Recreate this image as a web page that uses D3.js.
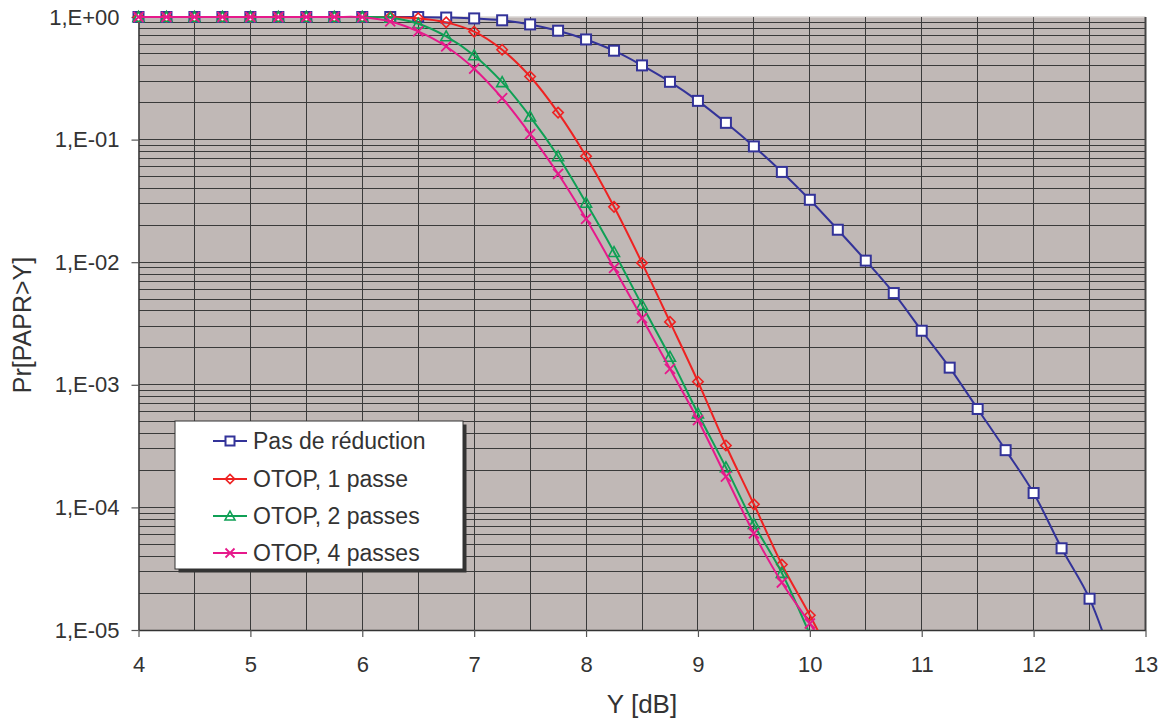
<!DOCTYPE html>
<html>
<head>
<meta charset="utf-8">
<script src="https://cdn.jsdelivr.net/npm/d3@7"></script>
<style>
  html, body { margin: 0; padding: 0; background: #fff; }
  svg { display: block; font-family: "Liberation Sans", Arial, sans-serif; }
</style>
</head>
<body>
<svg id="chart" width="1164" height="720"></svg>
<script>
// ---- data ----
const xValues = [4, 4.25, 4.5, 4.75, 5, 5.25, 5.5, 5.75, 6, 6.25, 6.5, 6.75, 7, 7.25, 7.5, 7.75,
  8, 8.25, 8.5, 8.75, 9, 9.25, 9.5, 9.75, 10, 10.25, 10.5, 10.75, 11, 11.25, 11.5, 11.75,
  12, 12.25, 12.5, 12.75];

const seriesNames = ["Pas de réduction", "OTOP, 1 passe", "OTOP, 2 passes", "OTOP, 4 passes"];

const pasDeReduction = [1, 1, 1, 1, 1, 1, 1, 1, 1, 1, 0.999, 0.99, 0.974, 0.94, 0.87, 0.773,
  0.656, 0.531, 0.403, 0.296, 0.207, 0.137, 0.088, 0.0545, 0.0323, 0.0184, 0.0103, 0.0056,
  0.00276, 0.00138, 0.000635, 0.000293, 0.000131, 4.64e-5, 1.8e-5, 4.2e-6];

const otop1 = [1, 1, 1, 1, 1, 1, 1, 1, 1, 0.999, 0.978, 0.904, 0.759, 0.541, 0.327, 0.166,
  0.0731, 0.0283, 0.00987, 0.00326, 0.00106, 3.2e-4, 1.06e-4, 3.42e-5, 1.32e-5, 4.7e-6];

const otop2 = [1, 1, 1, 1, 1, 1, 1, 1, 1, 0.985, 0.882, 0.695, 0.486, 0.294, 0.154, 0.0731,
  0.0305, 0.0121, 0.00447, 0.00169, 5.84e-4, 2.12e-4, 7.3e-5, 2.92e-5, 9.2e-6];

const otop4 = [1, 1, 1, 1, 1, 1, 1, 1, 0.997, 0.92, 0.763, 0.575, 0.379, 0.218, 0.111, 0.0526,
  0.0226, 0.00898, 0.0035, 0.00135, 5.16e-4, 1.78e-4, 6.13e-5, 2.44e-5, 1.13e-5, 5.0e-6];

const xTicks = [4, 5, 6, 7, 8, 9, 10, 11, 12, 13];
const yTicks = [1, 1e-1, 1e-2, 1e-3, 1e-4, 1e-5];
const yTickLabels = ["1,E+00", "1,E-01", "1,E-02", "1,E-03", "1,E-04", "1,E-05"];
const xTitle = "Y [dB]";
const yTitle = "Pr[PAPR>Y]";

// ---- layout ----
const pLeft = 138.5, pRight = 1145.5, pTop = 17, pBottom = 630;
const colors = ["#333399", "#ee2222", "#0fa055", "#e6198b"];
const markerTypes = ["square", "diamond", "triangle", "cross"];
const allSeries = [pasDeReduction, otop1, otop2, otop4];

const svg = d3.select("#chart");
const x = d3.scaleLinear().domain([4, 13]).range([pLeft, pRight]);
const y = d3.scaleLog().domain([1e-5, 1]).range([pBottom, pTop]);

// plot background
svg.append("rect").attr("x", pLeft).attr("y", pTop)
  .attr("width", pRight - pLeft).attr("height", pBottom - pTop)
  .attr("fill", "#c0b8b6");

// top light border
svg.append("line").attr("x1", pLeft).attr("x2", pRight).attr("y1", pTop).attr("y2", pTop)
  .attr("stroke", "#d8d4d2").attr("stroke-width", 1.5);

// grid
const grid = svg.append("g").attr("shape-rendering", "crispEdges");
const vGrid = d3.range(4.5, 13.01, 0.5);
grid.selectAll("line.v").data(vGrid).enter().append("line")
  .attr("x1", d => x(d)).attr("x2", d => x(d))
  .attr("y1", pTop).attr("y2", pBottom)
  .attr("stroke", "#3a3a3a").attr("stroke-width", 1);
const hGrid = [];
for (let e = -5; e < 0; e++) for (let k = 1; k <= 9; k++) hGrid.push(k * Math.pow(10, e));
grid.selectAll("line.h").data(hGrid.filter(v => v > 1e-5)).enter().append("line")
  .attr("x1", pLeft).attr("x2", pRight)
  .attr("y1", d => y(d)).attr("y2", d => y(d))
  .attr("stroke", "#3a3a3a").attr("stroke-width", 1);

// right border
svg.append("line").attr("x1", pRight).attr("x2", pRight).attr("y1", pTop).attr("y2", pBottom)
  .attr("stroke", "#444").attr("stroke-width", 2);

// axes
const yAxis = d3.axisLeft(y).tickValues(yTicks)
  .tickFormat((d, i) => yTickLabels[i]).tickSize(7).tickSizeOuter(0).tickPadding(12);
const gy = svg.append("g").attr("transform", `translate(${pLeft},0)`).call(yAxis);
gy.select(".domain").attr("stroke", "#333").attr("stroke-width", 1.5);
gy.selectAll(".tick line").attr("stroke", "#555").attr("stroke-width", 1.2);
gy.selectAll(".tick text").attr("font-size", 22).attr("fill", "#333")
  .attr("font-family", "Liberation Sans, Arial, sans-serif");

const xAxis = d3.axisBottom(x).tickValues(xTicks).tickFormat(d3.format("d"))
  .tickSize(7).tickSizeOuter(0).tickPadding(19);
const gx = svg.append("g").attr("transform", `translate(0,${pBottom})`).call(xAxis);
gx.select(".domain").attr("stroke", "#333").attr("stroke-width", 1.5);
gx.selectAll(".tick line").attr("stroke", "#555").attr("stroke-width", 1.2);
gx.selectAll(".tick text").attr("font-size", 22).attr("fill", "#333")
  .attr("font-family", "Liberation Sans, Arial, sans-serif");

// axis titles
svg.append("text").attr("x", 642).attr("y", 713).attr("text-anchor", "middle")
  .attr("font-size", 26).attr("fill", "#333").text(xTitle);
svg.append("text").attr("transform", "translate(31,325) rotate(-90)")
  .attr("text-anchor", "middle").attr("font-size", 25).attr("fill", "#333").text(yTitle);

// clip
svg.append("clipPath").attr("id", "clip").append("rect")
  .attr("x", pLeft).attr("y", 0).attr("width", pRight - pLeft + 5).attr("height", pBottom);

const line = d3.line().x(d => x(d[0])).y(d => y(d[1])).curve(d3.curveCatmullRom.alpha(0.5));

function drawMarker(g, type, color, cx, cy, scale) {
  const s = scale || 1;
  if (type === "square") {
    g.append("rect").attr("x", cx - 5 * s).attr("y", cy - 5 * s)
      .attr("width", 10 * s).attr("height", 10 * s)
      .attr("fill", "#fff").attr("stroke", color).attr("stroke-width", 2);
  } else if (type === "diamond") {
    const r = 5.2 * s;
    g.append("path").attr("d", `M${cx},${cy - r}L${cx + r},${cy}L${cx},${cy + r}L${cx - r},${cy}Z`)
      .attr("fill", "none").attr("stroke", color).attr("stroke-width", 1.6);
  } else if (type === "triangle") {
    const r = 5.5 * s;
    g.append("path").attr("d", `M${cx},${cy - r}L${cx + r},${cy + r * 0.8}L${cx - r},${cy + r * 0.8}Z`)
      .attr("fill", "none").attr("stroke", color).attr("stroke-width", 1.6);
  } else {
    const r = 5 * s;
    g.append("path").attr("d", `M${cx - r},${cy - r}L${cx + r},${cy + r}M${cx + r},${cy - r}L${cx - r},${cy + r}`)
      .attr("fill", "none").attr("stroke", color).attr("stroke-width", 1.8);
  }
}

allSeries.forEach((vals, si) => {
  const pts = vals.map((v, i) => [xValues[i], v]);
  svg.append("path").datum(pts).attr("d", line)
    .attr("clip-path", "url(#clip)")
    .attr("fill", "none").attr("stroke", colors[si]).attr("stroke-width", 2);
  const mg = svg.append("g");
  pts.filter(p => p[1] >= 1e-5).forEach(p => {
    drawMarker(mg, markerTypes[si], colors[si], x(p[0]), y(p[1]));
  });
});

// legend
const lg = svg.append("g");
lg.append("rect").attr("x", 178.5).attr("y", 424.5).attr("width", 288).attr("height", 148).attr("fill", "#333");
lg.append("rect").attr("x", 175).attr("y", 421).attr("width", 288).attr("height", 148)
  .attr("fill", "#fff").attr("stroke", "#333").attr("stroke-width", 1);
const rowsY = [441, 479, 516, 553];
seriesNames.forEach((name, i) => {
  const ry = rowsY[i];
  lg.append("line").attr("x1", 213).attr("x2", 247).attr("y1", ry).attr("y2", ry)
    .attr("stroke", colors[i]).attr("stroke-width", 2);
  drawMarker(lg, markerTypes[i], colors[i], 230, ry, 0.9);
  lg.append("text").attr("x", 253).attr("y", ry + 8).attr("font-size", 23)
    .attr("fill", "#333").text(name);
});
</script>
</body>
</html>
